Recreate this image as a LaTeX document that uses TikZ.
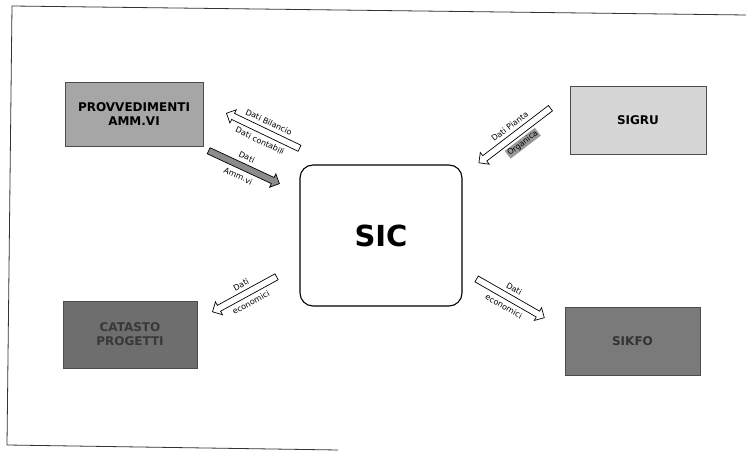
\documentclass[tikz,border=0pt]{standalone}
\usepackage{fontspec}
\setmainfont{DejaVu Sans}
\usetikzlibrary{shapes.arrows}

\begin{document}
\begin{tikzpicture}[x=1pt,y=1pt,
  sysbox/.style={draw=black!70, line width=0.8pt, minimum width=136pt, minimum height=66pt,
    align=center, inner sep=2pt, font=\bfseries\fontsize{12}{14}\selectfont},
  blockarr/.style={single arrow, draw=black, line width=0.7pt, fill=white, inner xsep=0pt, inner ysep=3pt,
    single arrow head extend=4pt, allow upside down, sloped, midway},
  arrlabel/.style={font=\fontsize{8}{9}\selectfont, sloped, midway, inner sep=1pt}]
  \useasboundingbox (0,0) rectangle (746,452);
  % frame of the slide
  \coordinate (fr1) at (746,437);
  \coordinate (fr2) at (12,446);
  \coordinate (fr3) at (7,7);
  \coordinate (fr4) at (338,2);
  \draw [black!80, line width=0.8pt] (fr1) -- (fr2) -- (fr3) -- (fr4);
  % systems
  \node [sysbox, fill=black!35, minimum width=138pt, minimum height=64pt] (prov) at (134,338) {PROVVEDIMENTI\\AMM.VI};
  \node [sysbox, fill=black!16, minimum height=68pt] (sigru) at (638,332) {SIGRU};
  \node [sysbox, fill=black!57, text=black!78, minimum width=134pt, minimum height=67pt] (catasto) at (130,117.5) {CATASTO\\PROGETTI};
  \node [sysbox, fill=black!52, text=black!80, minimum width=135pt, minimum height=68pt] (sikfo) at (632.5,111) {SIKFO};
  \node [draw=black, line width=1.1pt, rounded corners=13pt, fill=white, minimum width=162pt, minimum height=141pt,
    font=\bfseries\fontsize{29}{32}\selectfont] (sic) at (381,216.5) {SIC};
  % flows
  \coordinate (bilT) at (301,303);
  \coordinate (bilH) at (228,338);
  \coordinate (ammT) at (207,302);
  \coordinate (ammH) at (278,269);
  \coordinate (orgT) at (552,345);
  \coordinate (orgH) at (480,290);
  \coordinate (catT) at (278,176);
  \coordinate (catH) at (214,141);
  \coordinate (sikT) at (475,174);
  \coordinate (sikH) at (543,135);
  \path (bilT) -- (bilH) node [blockarr, minimum height=81pt] (bil) {};
  \path (bilH) -- (bilT) node [arrlabel, above=6pt] {Dati Bilancio}
                         node [arrlabel, below=6pt] {Dati contabili};
  \path (ammT) -- (ammH) node [blockarr, fill=black!45, minimum height=78pt] (amm) {};
  \path (ammT) -- (ammH) node [arrlabel, above=6pt] {Dati}
                         node [arrlabel, below=6pt] {Amm.vi};
  \path (orgT) -- (orgH) node [blockarr, minimum height=90pt] (org) {};
  \path (orgH) -- (orgT) node [arrlabel, above=6pt] {Dati Pianta}
                         node [arrlabel, below=6pt, fill=black!40] {Organica};
  \path (catT) -- (catH) node [blockarr, minimum height=73pt] (cat) {};
  \path (catH) -- (catT) node [arrlabel, above=6pt] {Dati}
                         node [arrlabel, below=6pt] {economici};
  \path (sikT) -- (sikH) node [blockarr, minimum height=78pt] (sik) {};
  \path (sikT) -- (sikH) node [arrlabel, above=6pt] {Dati}
                         node [arrlabel, below=6pt] {economici};
\end{tikzpicture}
\end{document}
